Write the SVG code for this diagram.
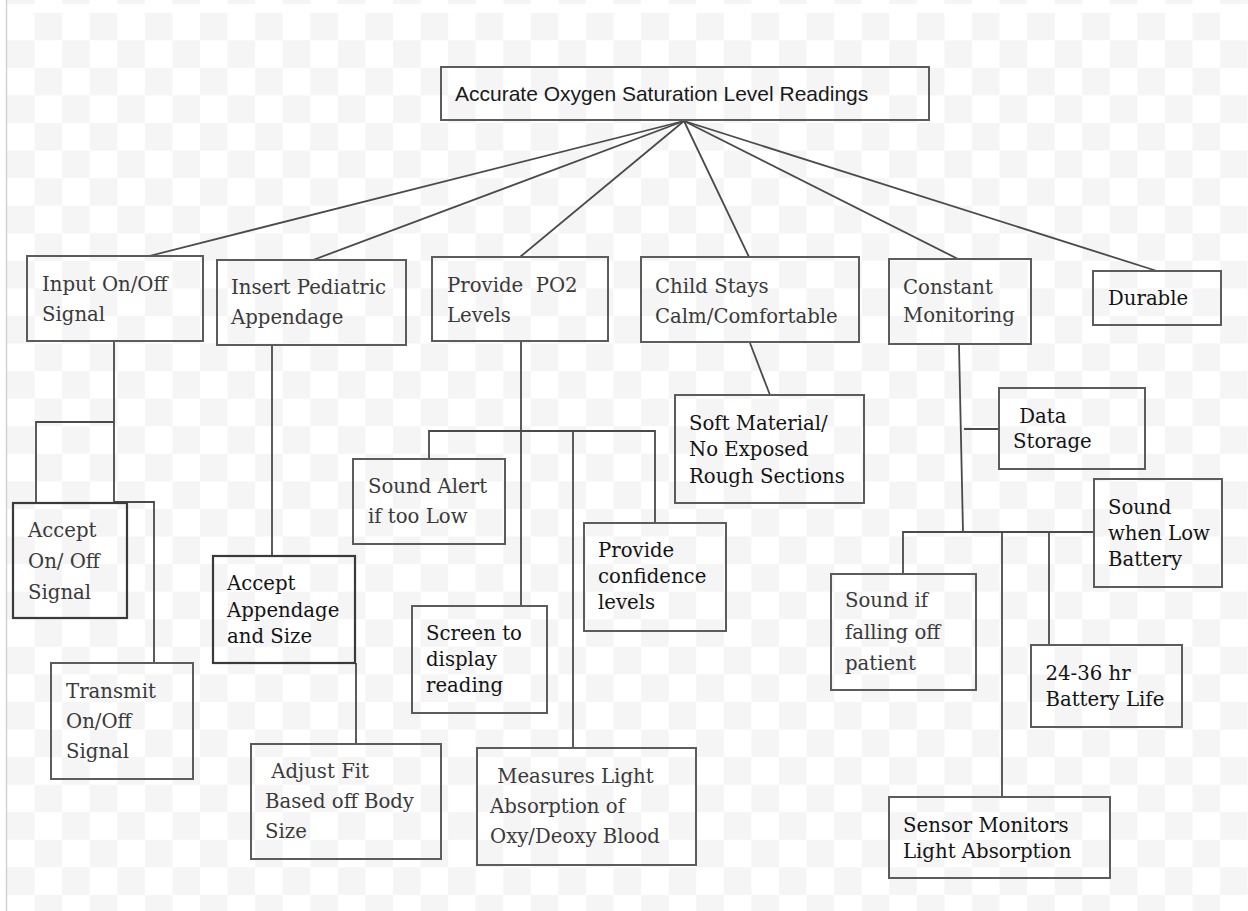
<svg xmlns="http://www.w3.org/2000/svg" width="1248" height="911" viewBox="0 0 1248 911">
<defs>
<pattern id="chk" patternUnits="userSpaceOnUse" x="7" y="12.7" width="55.14" height="55.14">
<rect width="55.14" height="55.14" fill="#ffffff"/>
<rect x="27.57" y="0" width="27.57" height="27.57" fill="#f5f5f5"/>
<rect x="0" y="27.57" width="27.57" height="27.57" fill="#f5f5f5"/>
</pattern>
<style>
.bx{fill:none;stroke:#5c5c5c;stroke-width:2}
.bxd{fill:none;stroke:#3a3a3a;stroke-width:2.2}
.t{font-family:"DejaVu Serif","Liberation Serif",serif;font-size:19.7px;fill:#3a3a3a}
.td{fill:#141414}
.ts{font-family:"Liberation Sans",Arial,sans-serif;font-size:21px;fill:#1a1a1a}
.c{fill:none;stroke:#4a4a4a;stroke-width:1.8}
</style>
</defs>
<rect width="1248" height="911" fill="#ffffff"/>
<rect x="7" y="0" width="1241" height="911" fill="url(#chk)"/>
<rect x="7" y="4" width="1241" height="8.7" fill="#ffffff"/>
<line x1="6.5" y1="0" x2="6.5" y2="911" stroke="#d2d2d2" stroke-width="1.5"/>

<g id="connectors" class="c">
<path d="M684,121 L149,256"/>
<path d="M684,121 L313,260"/>
<path d="M684,121 L520,257"/>
<path d="M684,121 L749,257"/>
<path d="M684,121 L958,259"/>
<path d="M684,121 L1157,271"/>
<path d="M114,341 V502 H154 V663"/>
<path d="M114,422 H36 V503"/>
<path d="M272,345 V556"/>
<path d="M356,663 V744"/>
<path d="M521,341 V606"/>
<path d="M429,459 V431 H655 V523"/>
<path d="M573,431 V748"/>
<path d="M750,343 L770,395"/>
<path d="M959,345 L963,532"/>
<path d="M964,429 H999"/>
<path d="M903,574 V532 H1094"/>
<path d="M1002,532 V797"/>
<path d="M1049,532 V645"/>
</g>

<g id="root">
<rect class="bx" x="441" y="67" width="488" height="53"/>
<text class="ts" x="455" y="101">Accurate Oxygen Saturation Level Readings</text>
</g>
<g id="input">
<rect class="bx" x="27" y="256" width="176" height="85"/>
<text class="t" x="42" y="290.5">Input On/Off</text>
<text class="t" x="42" y="320.5">Signal</text>
</g>
<g id="insert">
<rect class="bx" x="217" y="260" width="189" height="85"/>
<text class="t" x="231" y="293.5">Insert Pediatric</text>
<text class="t" x="231" y="323.5">Appendage</text>
</g>
<g id="po2">
<rect class="bx" x="432" y="257" width="176" height="84"/>
<text class="t" x="447" y="292" xml:space="preserve">Provide  PO2</text>
<text class="t" x="447" y="322">Levels</text>
</g>
<g id="child">
<rect class="bx" x="641" y="257" width="218" height="85"/>
<text class="t" x="655" y="292.5">Child Stays</text>
<text class="t" x="655" y="322.5">Calm/Comfortable</text>
</g>
<g id="constant">
<rect class="bx" x="889" y="259" width="142" height="85"/>
<text class="t" x="903" y="293.5">Constant</text>
<text class="t" x="903" y="322">Monitoring</text>
</g>
<g id="durable">
<rect class="bx" x="1093" y="271" width="128" height="54"/>
<text class="t td" x="1108" y="305">Durable</text>
</g>
<g id="accept-onoff">
<rect class="bxd" x="13" y="503" width="114" height="115"/>
<text class="t" x="28" y="536.5">Accept</text>
<text class="t" x="28" y="567.5">On/ Off</text>
<text class="t" x="28" y="598.5">Signal</text>
</g>
<g id="transmit">
<rect class="bx" x="51" y="663" width="142" height="116"/>
<text class="t" x="66" y="698">Transmit</text>
<text class="t" x="66" y="728">On/Off</text>
<text class="t" x="66" y="758">Signal</text>
</g>
<g id="accept-appendage">
<rect class="bxd" x="213" y="556" width="142" height="107"/>
<text class="t td" x="227" y="590">Accept</text>
<text class="t td" x="227" y="616.5">Appendage</text>
<text class="t td" x="227" y="643">and Size</text>
</g>
<g id="adjust">
<rect class="bx" x="251" y="744" width="190" height="115"/>
<text class="t" x="265" y="778" xml:space="preserve"> Adjust Fit</text>
<text class="t" x="265" y="808">Based off Body</text>
<text class="t" x="265" y="838">Size</text>
</g>
<g id="sound-alert">
<rect class="bx" x="353" y="459" width="152" height="85"/>
<text class="t" x="368" y="493">Sound Alert</text>
<text class="t" x="368" y="523">if too Low</text>
</g>
<g id="screen">
<rect class="bx" x="412" y="606" width="135" height="107"/>
<text class="t td" x="426" y="640">Screen to</text>
<text class="t td" x="426" y="665.5">display</text>
<text class="t td" x="426" y="691.5">reading</text>
</g>
<g id="confidence">
<rect class="bx" x="584" y="523" width="142" height="108"/>
<text class="t td" x="598" y="556.5">Provide</text>
<text class="t td" x="598" y="583">confidence</text>
<text class="t td" x="598" y="608.5">levels</text>
</g>
<g id="measures">
<rect class="bx" x="477" y="748" width="219" height="117"/>
<text class="t" x="491" y="783" xml:space="preserve"> Measures Light</text>
<text class="t" x="490" y="812.5">Absorption of</text>
<text class="t" x="490" y="842.5">Oxy/Deoxy Blood</text>
</g>
<g id="soft">
<rect class="bx" x="675" y="395" width="189" height="108"/>
<text class="t td" x="689" y="429.5">Soft Material/</text>
<text class="t td" x="689" y="456">No Exposed</text>
<text class="t td" x="689" y="482.5">Rough Sections</text>
</g>
<g id="data-storage">
<rect class="bx" x="999" y="388" width="146" height="81"/>
<text class="t td" x="1013" y="423" xml:space="preserve"> Data</text>
<text class="t td" x="1013" y="448">Storage</text>
</g>
<g id="low-battery">
<rect class="bx" x="1094" y="479" width="128" height="108"/>
<text class="t td" x="1108" y="514">Sound</text>
<text class="t td" x="1108" y="540">when Low</text>
<text class="t td" x="1108" y="565.5">Battery</text>
</g>
<g id="falling-off">
<rect class="bx" x="831" y="574" width="145" height="116"/>
<text class="t" x="845" y="607">Sound if</text>
<text class="t" x="845" y="638.5">falling off</text>
<text class="t" x="845" y="670">patient</text>
</g>
<g id="battery-life">
<rect class="bx" x="1031" y="645" width="151" height="82"/>
<text class="t td" x="1045.5" y="680">24-36 hr</text>
<text class="t td" x="1045.5" y="706">Battery Life</text>
</g>
<g id="sensor">
<rect class="bx" x="889" y="797" width="221" height="81"/>
<text class="t td" x="903" y="831.5">Sensor Monitors</text>
<text class="t td" x="903" y="857.5">Light Absorption</text>
</g>
</svg>
